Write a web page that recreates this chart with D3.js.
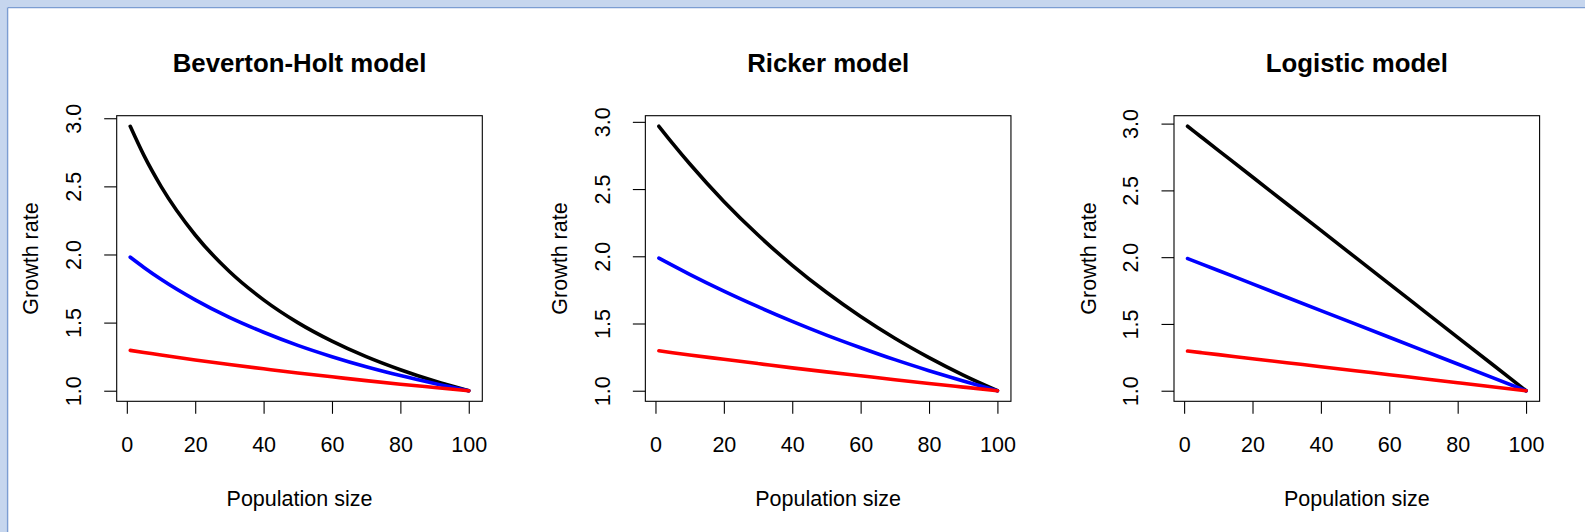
<!DOCTYPE html>
<html>
<head>
<meta charset="utf-8">
<script src="https://cdn.jsdelivr.net/npm/d3@7"></script>
<style>
  html, body { margin: 0; padding: 0; background: #fff; }
  svg { display: block; }
  text { font-family: "Liberation Sans", Arial, Helvetica, sans-serif; fill: #000; }
</style>
</head>
<body>
<svg id="chart" width="1585" height="532"></svg>
<script>
// Population sizes at which growth rates were evaluated
const popSize = [1, 5, 10, 20, 30, 40, 50, 60, 70, 80, 90, 100];

// Beverton-Holt growth rates (R = 3, 2, 1.3)
const bhHigh = [2.941, 2.727, 2.500, 2.143, 1.875, 1.667, 1.500, 1.364, 1.250, 1.154, 1.071, 1.000];
const bhMid  = [1.980, 1.905, 1.818, 1.667, 1.538, 1.429, 1.333, 1.250, 1.176, 1.111, 1.053, 1.000];
const bhLow  = [1.296, 1.281, 1.262, 1.226, 1.193, 1.161, 1.130, 1.102, 1.074, 1.048, 1.024, 1.000];

// Ricker growth rates
const rkHigh = [2.967, 2.840, 2.688, 2.408, 2.158, 1.933, 1.732, 1.552, 1.390, 1.246, 1.116, 1.000];
const rkMid  = [1.986, 1.932, 1.866, 1.741, 1.625, 1.516, 1.414, 1.320, 1.231, 1.149, 1.072, 1.000];
const rkLow  = [1.297, 1.283, 1.266, 1.234, 1.202, 1.170, 1.140, 1.111, 1.082, 1.054, 1.027, 1.000];

// Logistic growth rates
const lgHigh = [2.980, 2.900, 2.800, 2.600, 2.400, 2.200, 2.000, 1.800, 1.600, 1.400, 1.200, 1.000];
const lgMid  = [1.990, 1.950, 1.900, 1.800, 1.700, 1.600, 1.500, 1.400, 1.300, 1.200, 1.100, 1.000];
const lgLow  = [1.297, 1.285, 1.270, 1.240, 1.210, 1.180, 1.150, 1.120, 1.090, 1.060, 1.030, 1.000];

const titles = ["Beverton-Holt model", "Ricker model", "Logistic model"];
const seriesColors = ["#000000", "#0000ff", "#ff0000"];
const xTicks = [0, 20, 40, 60, 80, 100];
const yTicks = [1.0, 1.5, 2.0, 2.5, 3.0];
const xLabel = "Population size";
const yLabel = "Growth rate";

const panels = [
  [bhHigh, bhMid, bhLow],
  [rkHigh, rkMid, rkLow],
  [lgHigh, lgMid, lgLow]
];

const svg = d3.select("#chart");

// window frame along the top and left edges
svg.append("rect").attr("x", 0).attr("y", 0).attr("width", 1585).attr("height", 7).attr("fill", "#c6d6ee");
svg.append("rect").attr("x", 0).attr("y", 0).attr("width", 7).attr("height", 532).attr("fill", "#c6d6ee");
svg.append("line").attr("x1", 7.6).attr("x2", 1585).attr("y1", 7.6).attr("y2", 7.6)
  .attr("stroke", "#7c9dd2").attr("stroke-width", 1.4);
svg.append("line").attr("x1", 7.6).attr("x2", 7.6).attr("y1", 7.6).attr("y2", 532)
  .attr("stroke", "#7c9dd2").attr("stroke-width", 1.4);

const plotLeft0 = 116.7, panelStep = 528.65;
const plotTop = 115.7, plotW = 365.6, plotH = 285.6;
const tickLen = 12.5;
const labelSize = 21.5, titleSize = 25.8;

// R-style axis range: data extent padded by 4% on each side
function padded(ext) {
  const d = (ext[1] - ext[0]) * 0.04;
  return [ext[0] - d, ext[1] + d];
}

panels.forEach((series, i) => {
  const left = plotLeft0 + i * panelStep;
  const g = svg.append("g").attr("transform", `translate(${left},${plotTop})`);

  const allY = series.flat();
  const x = d3.scaleLinear().domain(padded(d3.extent(popSize))).range([0, plotW]);
  const y = d3.scaleLinear().domain(padded(d3.extent(allY))).range([plotH, 0]);

  // curves
  const line = d3.line()
    .x((d, k) => x(popSize[k]))
    .y(d => y(d))
    .curve(d3.curveMonotoneX);

  series.forEach((vals, s) => {
    g.append("path")
      .attr("d", line(vals))
      .attr("fill", "none")
      .attr("stroke", seriesColors[s])
      .attr("stroke-width", 3.6)
      .attr("stroke-linecap", "round")
      .attr("stroke-linejoin", "round");
  });

  // box
  g.append("rect")
    .attr("x", 0).attr("y", 0).attr("width", plotW).attr("height", plotH)
    .attr("fill", "none").attr("stroke", "#000").attr("stroke-width", 1.1);

  // x axis
  const xAxis = g.append("g")
    .attr("transform", `translate(0,${plotH})`)
    .call(d3.axisBottom(x).tickValues(xTicks).tickSize(tickLen).tickSizeOuter(0));
  xAxis.select(".domain").remove();
  xAxis.selectAll(".tick line").attr("stroke", "#000").attr("stroke-width", 1.1);
  xAxis.selectAll(".tick text")
    .attr("y", 51).attr("dy", 0)
    .attr("font-size", labelSize)
    .attr("font-family", null)
    .attr("fill", "#000");

  // y axis
  const yAxis = g.append("g")
    .call(d3.axisLeft(y).tickValues(yTicks).tickSize(tickLen).tickSizeOuter(0).tickFormat(d3.format(".1f")));
  yAxis.select(".domain").remove();
  yAxis.selectAll(".tick line").attr("stroke", "#000").attr("stroke-width", 1.1);
  yAxis.selectAll(".tick text")
    .attr("x", 0).attr("y", 0).attr("dy", 0)
    .attr("text-anchor", "middle")
    .attr("transform", "translate(-35.6,0) rotate(-90)")
    .attr("font-size", labelSize)
    .attr("font-family", null)
    .attr("fill", "#000");
  svg.selectAll(".tick text").attr("font-family", null);

  // title
  g.append("text")
    .attr("x", plotW / 2).attr("y", 72 - plotTop)
    .attr("text-anchor", "middle")
    .attr("font-weight", "bold")
    .attr("font-size", titleSize)
    .text(titles[i]);

  // axis labels
  g.append("text")
    .attr("x", plotW / 2).attr("y", 506 - plotTop)
    .attr("text-anchor", "middle")
    .attr("font-size", labelSize)
    .text(xLabel);

  g.append("text")
    .attr("text-anchor", "middle")
    .attr("transform", `translate(-78.3,${plotH / 2}) rotate(-90)`)
    .attr("font-size", labelSize)
    .text(yLabel);
});
</script>
</body>
</html>
